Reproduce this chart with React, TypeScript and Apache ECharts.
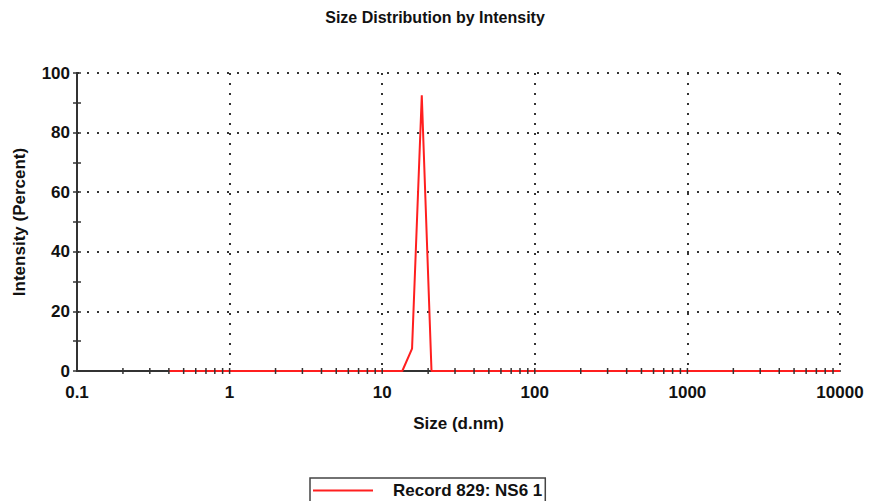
import React, { useEffect, useRef } from "react";
import * as echarts from "echarts";

// Data (size in d.nm, intensity in %)
const sizes = [0.4, 13.54, 15.69, 18.17, 21.04, 10000];
const intensity = [0, 0, 7.5, 92.5, 0, 0];
const seriesName = "Record 829: NS6 1";
const decades = [0.1, 1, 10, 100, 1000];
const multipliers = [1, 2, 3, 4, 5, 6, 7, 8, 9];

const FONT = '"Liberation Sans", Arial, sans-serif';

export default function App() {
  const ref = useRef<HTMLDivElement>(null);
  useEffect(() => {
    document.body.style.margin = "0";
    if (!ref.current) return;
    const chart = echarts.init(ref.current, null, { renderer: "svg" });

    const tickValues: number[][] = [];
    decades.forEach((d) =>
      multipliers.forEach((m) => {
        const v = +(d * m).toPrecision(6);
        if (v > 0.1) tickValues.push([v, 0]);
      })
    );

    const labelStyle = {
      fontSize: 17,
      fontWeight: "bold" as const,
      color: "#111",
      fontFamily: FONT,
    };

    const yBase = {
      type: "value" as const,
      min: 0,
      max: 100,
      interval: 20,
      position: "left" as const,
      axisLine: { show: true, lineStyle: { color: "#333", width: 2 } },
      minorTick: { show: true, splitNumber: 2, length: 4, lineStyle: { color: "#333", width: 1.5 } },
      minorSplitLine: { show: false },
    };

    chart.setOption({
      animation: false,
      backgroundColor: "#fff",
      title: {
        text: "Size Distribution by Intensity",
        left: "center",
        top: 9,
        padding: 0,
        textStyle: { ...labelStyle, fontSize: 16 },
      },
      grid: { left: 77, right: 30, top: 73, bottom: 130, containLabel: false },
      legend: {
        left: 310,
        top: 478,
        padding: [4, 3, 14, 3],
        borderColor: "#444",
        borderWidth: 1.5,
        itemWidth: 60,
        itemHeight: 2,
        data: [{ name: seriesName, icon: "rect" }],
        textStyle: { ...labelStyle, padding: [0, 0, 0, 15] },
      },
      xAxis: {
        type: "log",
        logBase: 10,
        min: 0.1,
        max: 10000,
        name: "Size (d.nm)",
        nameLocation: "middle",
        nameGap: 44,
        nameTextStyle: labelStyle,
        axisLine: { show: true, onZero: false, lineStyle: { color: "#333", width: 2 } },
        axisTick: { show: false },
        axisLabel: {
          ...labelStyle,
          margin: 13,
          formatter: (v: number) => String(+v.toPrecision(6)),
        },
        splitLine: {
          show: true,
          lineStyle: { color: "#333", width: 2, type: [2, 8] },
        },
      },
      yAxis: [
        {
          ...yBase,
          name: "Intensity (Percent)",
          nameLocation: "middle",
          nameGap: 49,
          nameTextStyle: labelStyle,
          axisTick: { show: true, length: 4, lineStyle: { color: "#333", width: 1.5 } },
          axisLabel: { ...labelStyle, margin: 7 },
          splitLine: {
            show: true,
            lineStyle: { color: "#333", width: 2, type: [2, 8] },
          },
        },
        {
          ...yBase,
          axisTick: { show: true, inside: true, length: 4, lineStyle: { color: "#333", width: 1.5 } },
          minorTick: { show: true, splitNumber: 2, length: 4, lineStyle: { color: "#333", width: 1.5 } },
          axisLabel: { show: false },
          splitLine: { show: false },
        },
      ],
      series: [
        {
          name: seriesName,
          type: "line",
          data: sizes.map((s, i) => [s, intensity[i]]),
          showSymbol: false,
          symbol: "none",
          lineStyle: { color: "#ff1f1f", width: 2 },
          itemStyle: { color: "#ff1f1f" },
          z: 2,
        },
        {
          name: "ticks",
          type: "custom",
          silent: true,
          z: 3,
          data: tickValues,
          encode: { x: 0, y: 1 },
          renderItem: (_params: any, api: any) => {
            const p = api.coord([api.value(0), api.value(1)]);
            return {
              type: "line",
              shape: { x1: p[0], y1: p[1] - 3, x2: p[0], y2: p[1] + 3 },
              style: { stroke: "#333", lineWidth: 1.5 },
            };
          },
        },
      ],
    });
    return () => chart.dispose();
  }, []);
  return <div ref={ref} style={{ width: 870, height: 501, overflow: "hidden" }} />;
}
